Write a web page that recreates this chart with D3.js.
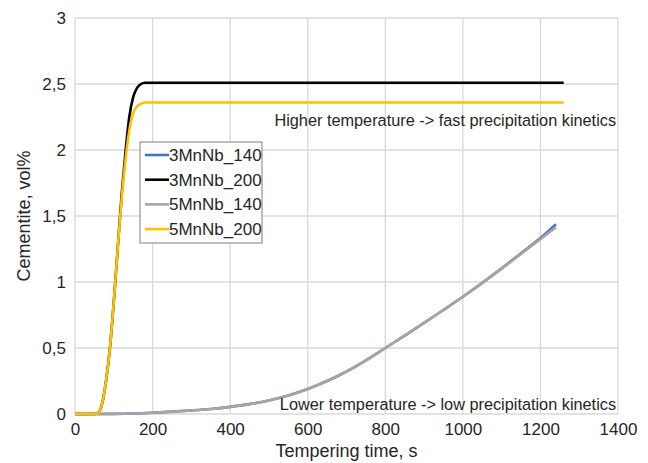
<!DOCTYPE html>
<html>
<head>
<meta charset="utf-8">
<script src="https://cdn.jsdelivr.net/npm/d3@7"></script>
<style>
  body { margin: 0; background: #fff; }
  text { font-family: Arial, "Liberation Sans", sans-serif; fill: #262626; }
</style>
</head>
<body>
<div id="chart"></div>
<script>
// data
var seriesNames = ["3MnNb_140", "3MnNb_200", "5MnNb_140", "5MnNb_200"];
var seriesColors = ["#4472C4", "#000000", "#A5A5A5", "#FFC000"];

var time140 = [0, 50, 100, 150, 200, 250, 300, 350, 400, 450, 500, 550, 600, 650, 700, 750, 800, 850, 900, 950, 1000, 1050, 1100, 1150, 1200, 1240];
var mn3_140 = [0, 0, 0.001, 0.004, 0.01, 0.018, 0.027, 0.038, 0.054, 0.075, 0.103, 0.14, 0.19, 0.25, 0.322, 0.407, 0.5, 0.594, 0.69, 0.788, 0.888, 0.993, 1.103, 1.218, 1.333, 1.438];
var mn5_140 = [0, 0, 0.001, 0.004, 0.01, 0.018, 0.027, 0.038, 0.054, 0.075, 0.103, 0.14, 0.19, 0.25, 0.322, 0.407, 0.5, 0.594, 0.69, 0.788, 0.888, 0.993, 1.101, 1.212, 1.325, 1.415];

var time200 = [0, 50, 60, 70, 80, 90, 100, 110, 120, 130, 140, 150, 160, 170, 180, 190, 200, 300, 400, 600, 800, 1000, 1200, 1260];
var mn3_200 = [0, 0, 0.01, 0.08, 0.25, 0.5, 0.85, 1.25, 1.65, 1.98, 2.25, 2.40, 2.47, 2.50, 2.51, 2.51, 2.51, 2.51, 2.51, 2.51, 2.51, 2.51, 2.51, 2.51];
var mn5_200 = [0, 0, 0.01, 0.08, 0.25, 0.5, 0.85, 1.25, 1.62, 1.92, 2.15, 2.28, 2.33, 2.35, 2.36, 2.36, 2.36, 2.36, 2.36, 2.36, 2.36, 2.36, 2.36, 2.36];

var xTicks = [0, 200, 400, 600, 800, 1000, 1200, 1400];
var yTicks = [0, 0.5, 1, 1.5, 2, 2.5, 3];

var series = [
    { name: seriesNames[0], color: seriesColors[0], t: time140, v: mn3_140 },
    { name: seriesNames[1], color: seriesColors[1], t: time200, v: mn3_200 },
    { name: seriesNames[2], color: seriesColors[2], t: time140, v: mn5_140 },
    { name: seriesNames[3], color: seriesColors[3], t: time200, v: mn5_200 }
];

var svgWidth = 648, svgHeight = 463;
var margin = { top: 18, right: 30, bottom: 49, left: 75 };
var width = svgWidth - margin.left - margin.right;
var height = svgHeight - margin.top - margin.bottom;

var svg = d3.select("#chart")
    .append("svg")
    .attr("width", svgWidth)
    .attr("height", svgHeight);

var chartGroup = svg.append("g")
    .attr("transform", `translate(${margin.left}, ${margin.top})`);

var x = d3.scaleLinear().domain([0, 1400]).range([0, width]);
var y = d3.scaleLinear().domain([0, 3]).range([height, 0]);

// gridlines
chartGroup.append("g").selectAll("line")
    .data(yTicks)
    .enter()
    .append("line")
    .attr("x1", 0)
    .attr("x2", width)
    .attr("y1", d => y(d))
    .attr("y2", d => y(d))
    .attr("stroke", "#d9d9d9")
    .attr("stroke-width", 1.3);

chartGroup.append("g").selectAll("line")
    .data(xTicks)
    .enter()
    .append("line")
    .attr("x1", d => x(d))
    .attr("x2", d => x(d))
    .attr("y1", 0)
    .attr("y2", height)
    .attr("stroke", "#d9d9d9")
    .attr("stroke-width", 1.3);

// axes (labels only)
var fmt = d => d3.format("")(d).replace(".", ",");

var xAxis = chartGroup.append("g")
    .attr("transform", `translate(0, ${height})`)
    .call(d3.axisBottom(x).tickValues(xTicks).tickSize(0).tickPadding(9).tickFormat(fmt));
xAxis.select(".domain").remove();
xAxis.selectAll("text").attr("font-size", "17px").attr("fill", "#262626")
    .attr("font-family", "Arial, 'Liberation Sans', sans-serif");

var yAxis = chartGroup.append("g")
    .call(d3.axisLeft(y).tickValues(yTicks).tickSize(0).tickPadding(9).tickFormat(fmt));
yAxis.select(".domain").remove();
yAxis.selectAll("text").attr("font-size", "17px").attr("fill", "#262626")
    .attr("font-family", "Arial, 'Liberation Sans', sans-serif");

// lines
var line = d3.line()
    .x(d => x(d[0]))
    .y(d => y(d[1]))
    .curve(d3.curveMonotoneX);

series.forEach(function(s) {
    chartGroup.append("path")
        .datum(s.t.map((t, i) => [t, s.v[i]]))
        .attr("fill", "none")
        .attr("stroke", s.color)
        .attr("stroke-width", 2.6)
        .attr("d", line);
});

// annotations
chartGroup.append("text")
    .attr("x", x(1395))
    .attr("y", y(2.18))
    .attr("text-anchor", "end")
    .attr("font-size", "16.3px")
    .text("Higher temperature -> fast precipitation kinetics");

chartGroup.append("text")
    .attr("x", x(1395))
    .attr("y", y(0.03))
    .attr("text-anchor", "end")
    .attr("font-size", "16.3px")
    .text("Lower temperature -> low precipitation kinetics");

// legend
var legend = svg.append("g").attr("transform", "translate(140, 142)");
legend.append("rect")
    .attr("width", 122)
    .attr("height", 101)
    .attr("fill", "#fff")
    .attr("stroke", "#7f7f7f")
    .attr("stroke-width", 1);

var items = legend.selectAll("g.item")
    .data(series)
    .enter()
    .append("g")
    .attr("class", "item")
    .attr("transform", (d, i) => `translate(0, ${13 + i * 24.7})`);

items.append("line")
    .attr("x1", 5)
    .attr("x2", 29)
    .attr("stroke", d => d.color)
    .attr("stroke-width", 2.6);

items.append("text")
    .attr("x", 29)
    .attr("dy", "0.35em")
    .attr("font-size", "17px")
    .text(d => d.name);

// axis titles
svg.append("text")
    .attr("transform", `translate(${margin.left + width / 2}, ${svgHeight - 6})`)
    .attr("text-anchor", "middle")
    .attr("font-size", "18px")
    .text("Tempering time, s");

svg.append("text")
    .attr("transform", `translate(30, ${margin.top + height / 2}) rotate(-90)`)
    .attr("text-anchor", "middle")
    .attr("font-size", "18px")
    .text("Cementite, vol%");
</script>
</body>
</html>
